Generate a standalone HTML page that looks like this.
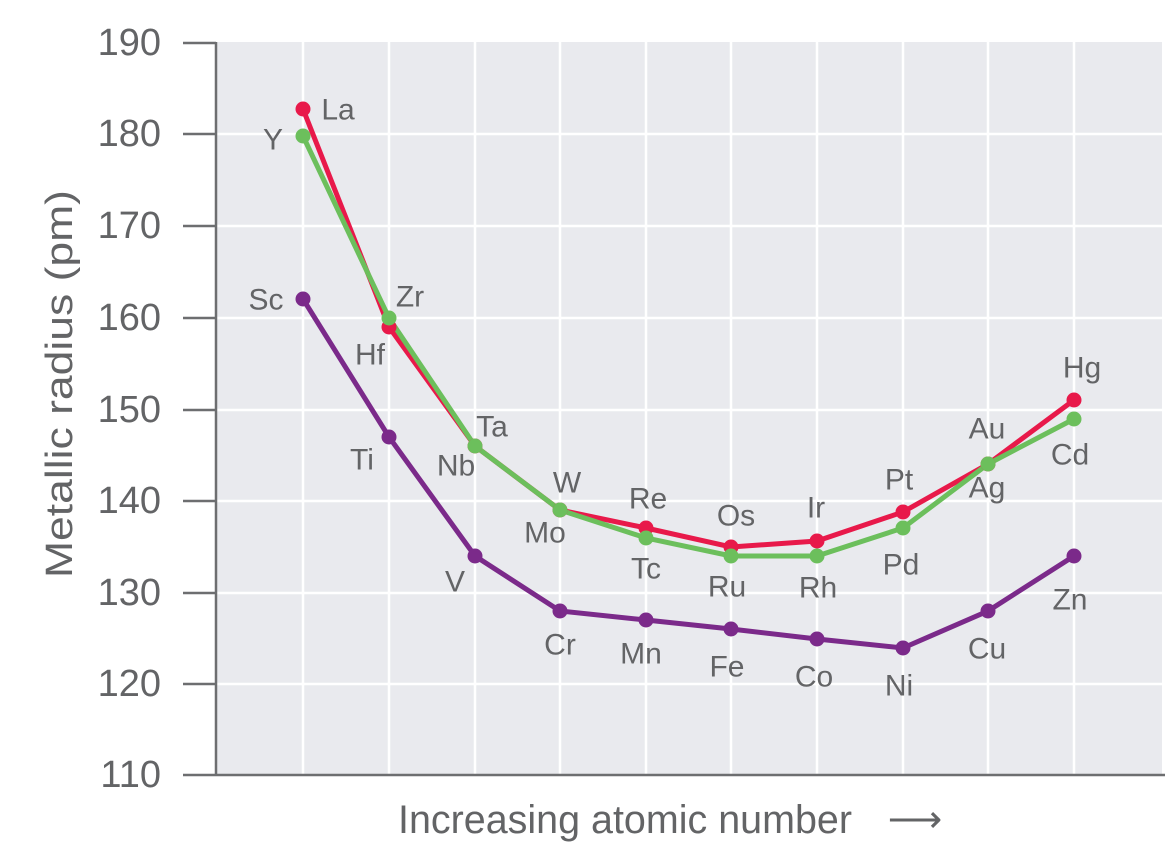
<!DOCTYPE html>
<html><head><meta charset="utf-8"><style>
html,body{margin:0;padding:0;background:#fff;width:1168px;height:864px;overflow:hidden}
svg text{font-family:"Liberation Sans",sans-serif;fill:#636466}
</style></head><body>
<svg width="1168" height="864" viewBox="0 0 1168 864">
<rect x="216" y="42" width="946" height="733" fill="#e9eaee"/>
<g stroke="#fff" stroke-width="2.5">
<line x1="216" y1="134" x2="1162" y2="134"/><line x1="216" y1="226" x2="1162" y2="226"/>
<line x1="216" y1="318" x2="1162" y2="318"/><line x1="216" y1="410" x2="1162" y2="410"/>
<line x1="216" y1="501" x2="1162" y2="501"/><line x1="216" y1="593" x2="1162" y2="593"/>
<line x1="216" y1="684" x2="1162" y2="684"/>
<line x1="303" y1="42" x2="303" y2="775"/><line x1="389" y1="42" x2="389" y2="775"/>
<line x1="475" y1="42" x2="475" y2="775"/><line x1="560" y1="42" x2="560" y2="775"/>
<line x1="646" y1="42" x2="646" y2="775"/><line x1="731" y1="42" x2="731" y2="775"/>
<line x1="817" y1="42" x2="817" y2="775"/><line x1="903" y1="42" x2="903" y2="775"/>
<line x1="988" y1="42" x2="988" y2="775"/><line x1="1074" y1="42" x2="1074" y2="775"/>
</g>
<g stroke="#6d6e70" stroke-width="2.5">
<line x1="216" y1="42" x2="216" y2="775"/>
<line x1="183" y1="775" x2="1165" y2="775"/>
<line x1="183" y1="43" x2="216" y2="43"/><line x1="183" y1="134" x2="216" y2="134"/>
<line x1="183" y1="226" x2="216" y2="226"/><line x1="183" y1="318" x2="216" y2="318"/>
<line x1="183" y1="410" x2="216" y2="410"/><line x1="183" y1="501" x2="216" y2="501"/>
<line x1="183" y1="593" x2="216" y2="593"/><line x1="183" y1="684" x2="216" y2="684"/>
</g>
<g font-size="38" text-anchor="end" dominant-baseline="central">
<text x="161" y="43">190</text><text x="161" y="134">180</text><text x="161" y="226">170</text>
<text x="161" y="318">160</text><text x="161" y="410">150</text><text x="161" y="501">140</text>
<text x="161" y="593">130</text><text x="161" y="684">120</text><text x="161" y="775">110</text>
</g>
<text transform="translate(60,384) rotate(-90)" font-size="38" text-anchor="middle" dominant-baseline="central" textLength="388" lengthAdjust="spacingAndGlyphs">Metallic radius (pm)</text>
<text x="398" y="820" font-size="40" dominant-baseline="central" textLength="454" lengthAdjust="spacingAndGlyphs">Increasing atomic number</text>
<text x="915" y="820" font-size="38" text-anchor="middle" dominant-baseline="central">⟶</text>
<polyline fill="none" stroke="#e8194a" stroke-width="5" points="303,109 389,327 475,446 560,510 646,528 731,547 817,541 903,512 988,464 1074,400"/>
<polyline fill="none" stroke="#6cbf5c" stroke-width="5" points="303,136 389,318 475,446 560,510 646,538 731,556 817,556 903,528 988,464 1074,419"/>
<polyline fill="none" stroke="#7b2a8a" stroke-width="5" points="303,299 389,437 475,556 560,611 646,620 731,629 817,639 903,648 988,611 1074,556"/>
<g fill="#e8194a"><circle cx="303" cy="109" r="7.5"/><circle cx="389" cy="327" r="7.5"/><circle cx="475" cy="446" r="7.5"/><circle cx="560" cy="510" r="7.5"/><circle cx="646" cy="528" r="7.5"/><circle cx="731" cy="547" r="7.5"/><circle cx="817" cy="541" r="7.5"/><circle cx="903" cy="512" r="7.5"/><circle cx="988" cy="464" r="7.5"/><circle cx="1074" cy="400" r="7.5"/></g>
<g fill="#6cbf5c"><circle cx="303" cy="136" r="7.5"/><circle cx="389" cy="318" r="7.5"/><circle cx="475" cy="446" r="7.5"/><circle cx="560" cy="510" r="7.5"/><circle cx="646" cy="538" r="7.5"/><circle cx="731" cy="556" r="7.5"/><circle cx="817" cy="556" r="7.5"/><circle cx="903" cy="528" r="7.5"/><circle cx="988" cy="464" r="7.5"/><circle cx="1074" cy="419" r="7.5"/></g>
<g fill="#7b2a8a"><circle cx="303" cy="299" r="7.5"/><circle cx="389" cy="437" r="7.5"/><circle cx="475" cy="556" r="7.5"/><circle cx="560" cy="611" r="7.5"/><circle cx="646" cy="620" r="7.5"/><circle cx="731" cy="629" r="7.5"/><circle cx="817" cy="639" r="7.5"/><circle cx="903" cy="648" r="7.5"/><circle cx="988" cy="611" r="7.5"/><circle cx="1074" cy="556" r="7.5"/></g>
<g font-size="30" text-anchor="middle" dominant-baseline="central">
<text x="338" y="110">La</text><text x="273" y="140">Y</text><text x="266" y="300">Sc</text>
<text x="410" y="297">Zr</text><text x="370" y="355">Hf</text><text x="362" y="460">Ti</text>
<text x="492" y="427">Ta</text><text x="456" y="466">Nb</text><text x="455" y="582">V</text>
<text x="567" y="483">W</text><text x="545" y="533">Mo</text><text x="560" y="645">Cr</text>
<text x="648" y="499">Re</text><text x="646" y="569">Tc</text><text x="641" y="654">Mn</text>
<text x="736" y="516">Os</text><text x="727" y="587">Ru</text><text x="727" y="667">Fe</text>
<text x="816" y="508">Ir</text><text x="818" y="588">Rh</text><text x="814" y="677">Co</text>
<text x="899" y="480">Pt</text><text x="901" y="565">Pd</text><text x="899" y="686">Ni</text>
<text x="987" y="429">Au</text><text x="987" y="488">Ag</text><text x="987" y="649">Cu</text>
<text x="1082" y="368">Hg</text><text x="1070" y="455">Cd</text><text x="1070" y="600">Zn</text>
</g>
</svg>
</body></html>
